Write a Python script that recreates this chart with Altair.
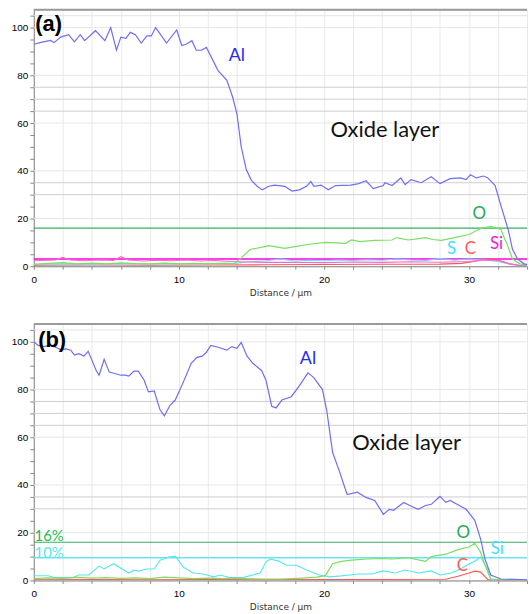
import altair as alt
import pandas as pd

X_MAX = 34
Y_MAX = 107.5
W = 496
H = 258

# ---------------- panel (a) ----------------
a_al_x = [0, 0.5, 1.15, 1.4, 1.85, 2.4, 2.8, 3.2, 3.5, 4.25, 4.9, 5.3, 5.7, 6.0, 6.35, 6.65, 7.0, 7.4, 7.8, 8.1,
          8.4, 9.15, 9.85, 10.2, 10.5, 10.9, 11.2, 11.55, 11.9, 12.7, 13.3, 13.7, 14.0, 14.3, 14.65, 15.0, 15.4,
          15.75, 16.2, 16.6, 17.3, 17.8, 18.3, 18.8, 19.1, 19.3, 19.8, 20.3, 20.8, 21.85, 22.4, 22.9, 23.4, 24.1,
          24.2, 24.7, 25.3, 25.6, 26.0, 26.7, 27.4, 28.0, 28.7, 29.4, 29.8, 30.1, 30.5, 31.0, 31.3, 31.8, 32.2,
          32.7, 33.0, 33.35, 33.8, 34]
a_al_y = [93, 93.8, 94.6, 93.7, 96, 97, 94, 97, 94.5, 98.7, 94.5, 100, 90.5, 96, 95.5, 98, 97, 93.5, 96.5, 96.5,
          100, 93.5, 99, 92.5, 93, 94.5, 90.5, 90.5, 91.7, 82, 78, 71, 64, 50, 40.4, 36, 33.5,
          32, 33.5, 34, 33.5, 31.5, 32, 33.5, 35.5, 33.5, 34, 32, 33.8, 34, 34.6, 35.8, 32.5, 33.8,
          35, 33.8, 37, 34.2, 36.3, 35, 37.5, 34.6, 36.7, 37, 36.3, 38.3, 37, 37.8, 37, 33.8, 25.4,
          15.4, 7.1, 3, 1, 0.8]

a_o_x = [0, 1, 2, 3, 4, 5, 6, 7, 8, 9, 10, 11, 12, 13, 13.8, 14.3, 14.9, 15.75, 16.2, 16.8, 17.3, 18, 19, 20.1,
         21.5, 21.9, 22.5, 23.5, 24.7, 25, 25.8, 26.4, 27, 27.5, 28.1, 29, 30, 30.8, 31.5, 32.2, 32.7, 33, 33.5, 34]
a_o_y = [0.8, 1.2, 1.5, 1.0, 1.3, 1.0, 1.4, 1.1, 1.0, 1.3, 1.0, 1.2, 1.0, 1.2, 1.0, 3.5, 7, 8, 8.6, 8.0, 7.5, 8.2,
         9.2, 10, 9.6, 11, 10.3, 10.8, 11, 12, 11, 11.5, 12, 11.2, 10.8, 12, 13.3, 15.8, 16.7, 15.4, 8, 3, 1, 0.6]

a_si_x = [0, 1, 1.5, 2, 2.5, 3.5, 4.5, 5.5, 6, 6.5, 7.5, 8.5, 9.5, 10.5, 11.5, 12.5, 13.5, 14.5, 16, 18, 20, 22,
          24, 26, 28, 30, 31, 32, 32.8, 33.5, 34]
a_si_y = [2.3, 2.5, 2.6, 3.7, 2.6, 2.3, 2.6, 2.4, 4.0, 2.6, 2.2, 2.5, 2.3, 2.6, 2.2, 2.4, 2.0, 1.8, 1.6, 1.7, 1.5,
          1.8, 1.6, 1.9, 1.7, 2.0, 2.6, 2.4, 1.0, 0.3, 0.2]

a_s_x = [0, 2, 4, 6, 8, 10, 12, 14, 15, 16, 17, 18, 19, 20, 21, 22, 23, 24, 25, 26, 27, 28, 29, 30, 31, 32, 33, 34]
a_s_y = [0.8, 1.0, 0.9, 1.1, 0.9, 1.0, 1.1, 1.3, 2.0, 2.3, 3.0, 2.2, 2.5, 2.3, 2.6, 2.4, 2.7, 2.5, 3.0, 2.6, 2.4,
         3.2, 2.5, 3.0, 2.6, 2.0, 0.6, 0.3]

a_c_x = [0, 4, 8, 12, 16, 20, 24, 28, 29.5, 30.5, 31.3, 32, 32.8, 33.5, 34]
a_c_y = [0.4, 0.5, 0.4, 0.5, 0.6, 0.7, 0.8, 0.9, 1.2, 2.2, 3.0, 2.6, 1.0, 0.3, 0.2]

a_rule_o = 16
a_rule_si = 3

# ---------------- panel (b) ----------------
b_al_x = [0, 0.3, 0.7, 1.07, 1.5, 1.9, 2.2, 2.55, 2.8, 3.1, 3.45, 3.75, 4.3, 4.5, 4.85, 5.2, 6.0, 6.3, 6.55, 6.9,
          7.2, 7.6, 7.9, 8.3, 8.7, 9.0, 9.4, 9.75, 10.3, 10.85, 11.25, 11.6, 11.9, 12.2, 12.7, 13.3, 13.65, 14.0,
          14.3, 14.7, 15.1, 15.7, 16.0, 16.4, 16.7, 17.1, 17.75, 18.3, 18.9, 19.3, 19.9, 20.2, 20.6, 21.05, 21.6,
          22.3, 22.9, 23.5, 24.1, 24.5, 24.8, 25.5, 26.06, 26.5, 27.0, 27.4, 28.0, 28.4, 28.7, 29.3, 29.8, 30.4,
          30.8, 31.1, 31.5, 32.2, 34]
b_al_y = [100, 98.5, 98, 98.5, 97.7, 96.5, 97, 96.5, 94.4, 95, 94, 96, 88, 86, 92.7, 87.3, 86, 86, 85.6, 87.7,
          87.7, 84, 79, 79.4, 71.5, 69, 73.5, 75.6, 83, 91, 93.5, 94, 95.6, 98.5, 97.7, 96.5, 98, 97.3,
          99.7, 94, 91, 88, 84, 73, 72.3, 75.6, 77, 81.5, 87, 85, 80, 71, 53.6, 46, 36,
          37, 34.8, 33.5, 27.7, 29.8, 29.4, 32.7, 31, 29.8, 31.4, 31.9, 35.2, 32.7, 33.5, 31.5, 29.8, 25.2,
          17.3, 9, 2.3, 0.6, 0.3]

b_o_x = [0, 1, 2, 3, 4, 5, 6, 7, 8, 9, 10, 11, 12, 13, 14, 15, 16, 17, 18.5, 19.5, 20.1, 20.6, 21.2, 21.9, 23, 24,
         24.7, 25.8, 26.6, 27, 27.4, 28.4, 29.3, 30, 30.4, 30.8, 31.1, 31.5, 32.5, 34]
b_o_y = [0.8, 1.1, 0.9, 1.3, 1.0, 1.2, 0.9, 1.1, 0.8, 1.4, 1.1, 0.8, 1.0, 0.8, 1.0, 0.7, 0.6, 0.6, 1.0, 1.4, 2, 7,
         8, 8.5, 9, 9.2, 9, 9.5, 8.5, 8, 10, 11, 13, 14, 15.6, 11.8, 6.5, 0.5, 0.3, 0.3]

b_si_x = [0, 1, 1.4, 2.1, 2.7, 3.1, 3.8, 4.5, 4.85, 5.5, 6.55, 6.9, 7.2, 7.8, 8.3, 8.7, 9.3, 9.75, 10.3, 11.0,
          11.7, 12.4, 12.85, 13.5, 14.4, 15.1, 15.6, 16.0, 16.3, 16.9, 17.4, 18.1, 18.8, 19.7, 20.4, 21.2, 22.4,
          23.3, 24.1, 24.9, 25.6, 26.5, 27.4, 28.0, 28.8, 29.4, 29.9, 30.5, 30.8, 31.3, 31.5, 32.5, 34]
b_si_y = [2, 2, 1.2, 1.2, 1.2, 2.3, 2.3, 6, 4.8, 7, 3.1, 4.3, 3.9, 4.8, 4.8, 8.5, 9.8, 10.2, 5.6, 3.1,
          2.7, 1.5, 2.3, 1.2, 1.2, 2.3, 3.1, 7.7, 9, 8.1, 6.4, 6.4, 4.4, 2.3, 1.5, 1.9, 2.7,
          2.7, 4, 3.1, 4.4, 3.1, 4, 2.3, 3.1, 4.8, 6.5, 8.5, 9.8, 4.4, 0.6, 0.3, 0.3]

b_c_x = [0, 4, 8, 12, 16, 20, 24, 28.4, 29.3, 30, 30.4, 30.8, 31.3, 34]
b_c_y = [0.3, 0.4, 0.3, 0.4, 0.3, 0.4, 0.4, 0.5, 1.9, 3.1, 3.9, 3.5, 0.3, 0.2]

b_rule_o = 16
b_rule_si = 9.5

# grid
grid_light = [20, 40, 60, 80, 100, 105]
grid_dark = [30, 35, 65, 70, 75]
x_ticks = list(range(0, 35, 2))
y_ticks = list(range(0, 106, 5))

# texts: (x, y, text, color)
a_label = [(0.1, 101.5, "(a)")]
a_big = [(24.2, 57, "Oxide layer", "#111111")]
a_el = [(14.0, 88, "Al", "#2a2af0")]
a_small = [(30.7, 21.7, "O", "#22aa55"), (28.8, 7.1, "S", "#44ddff"), (30.1, 7.3, "C", "#ff5a5a"),
           (31.9, 9.2, "Si", "#ee22cc")]

b_label = [(0.3, 100.6, "(b)")]
b_big = [(25.7, 57.7, "Oxide layer", "#111111")]
b_el = [(18.9, 92.7, "Al", "#2a2af0")]
b_small = [(29.6, 19.8, "O", "#22aa55"), (31.95, 13.1, "Si", "#44ddff"), (29.55, 6.0, "C", "#ff5a5a")]
b_pct = [(0.05, 18.6, "16%", "#22bb55"), (0.05, 11.6, "10%", "#55e5f5")]

xscale = alt.Scale(domain=[0, X_MAX], nice=False, zero=False)
yscale = alt.Scale(domain=[0, Y_MAX], nice=False, zero=False)

xaxis = alt.Axis(values=x_ticks, labelExpr="datum.value % 10 == 0 ? datum.label : ''", grid=True,
                 gridColor="#e9e9e9", tickSize=3, labelPadding=5, labelFlush=False,
                 title="Distance / µm", titlePadding=4, titleFontWeight="normal",
                 titleFont="DejaVu Sans", titleFontSize=9, titleColor="#333333")
yaxis = alt.Axis(values=y_ticks, labelExpr="datum.value % 20 == 0 ? datum.label : ''", grid=False,
                 tickSize=4, labelPadding=2, title=None)


def enc(ch):
    return ch.encode(x=alt.X("x:Q", scale=xscale, axis=xaxis), y=alt.Y("y:Q", scale=yscale, axis=yaxis))


def line(xs, ys, color, width=1.2):
    df = pd.DataFrame({"x": xs, "y": ys})
    return enc(alt.Chart(df).mark_line(color=color, strokeWidth=width, clip=True))


def hrules(vals, color, width=1.0):
    df = pd.DataFrame({"y": vals})
    return alt.Chart(df).mark_rule(color=color, strokeWidth=width).encode(
        y=alt.Y("y:Q", scale=yscale, axis=yaxis))


def texts(items, font, size, weight="normal", align="center", fixed_color=None):
    rows = []
    for it in items:
        rows.append({"x": it[0], "y": it[1], "t": it[2], "c": fixed_color if fixed_color else it[3]})
    df = pd.DataFrame(rows)
    return alt.Chart(df).mark_text(font=font, fontSize=size, fontWeight=weight, align=align,
                                   baseline="middle").encode(
        x=alt.X("x:Q", scale=xscale, axis=xaxis), y=alt.Y("y:Q", scale=yscale, axis=yaxis),
        text="t:N", color=alt.Color("c:N", scale=None))


def panel(al, o, si, s, c, rule_o, rule_si, rule_si_color, label, big, el, small, pct=None):
    layers = [
        hrules(grid_light, "#e6e6e6"),
        hrules(grid_dark, "#cfcfcf"),
        hrules([Y_MAX], "#9a9a9a", 2),
        hrules([rule_o], "#33b060", 1.2),
        hrules([rule_si], rule_si_color, 1.5),
    ]
    if c is not None:
        layers.append(line(c[0], c[1], "#ff5555", 1.1))
    if s is not None:
        layers.append(line(s[0], s[1], "#66e0ff", 1.1))
    layers.append(line(si[0], si[1], si[2], 1.1))
    layers.append(line(o[0], o[1], "#77e060", 1.2))
    layers.append(line(al[0], al[1], "#6e6ef5", 1.2))
    layers.append(texts(label, "Liberation Sans", 22, "bold", "left", "#000000"))
    layers.append(texts(big, "Lato", 22))
    layers.append(texts(el, "Lato", 18))
    layers.append(texts(small, "Lato", 17))
    if pct:
        layers.append(texts(pct, "Lato", 15, align="left"))
    return alt.layer(*layers).properties(width=W, height=H)


top = panel((a_al_x, a_al_y), (a_o_x, a_o_y), (a_si_x, a_si_y, "#ff66cc"), (a_s_x, a_s_y), (a_c_x, a_c_y),
            a_rule_o, a_rule_si, "#ff00dd", a_label, a_big, a_el, a_small)
bottom = panel((b_al_x, b_al_y), (b_o_x, b_o_y), (b_si_x, b_si_y, "#55e5f5"), None, (b_c_x, b_c_y),
               b_rule_o, b_rule_si, "#66e5f2", b_label, b_big, b_el, b_small, b_pct)

chart = alt.vconcat(top, bottom, spacing=24).properties(
    padding={"left": 10, "top": 6, "right": 0, "bottom": 0}
).configure_view(stroke=None).configure_axis(
    labelFont="DejaVu Sans", labelFontSize=9, labelColor="#333333",
    titleFont="DejaVu Sans", titleFontSize=9, titleFontWeight="normal", titleColor="#333333",
    domainColor="#555555", tickColor="#555555"
).configure(background="white")

chart.save("out.html", embed_options={"renderer": "svg", "actions": False})
